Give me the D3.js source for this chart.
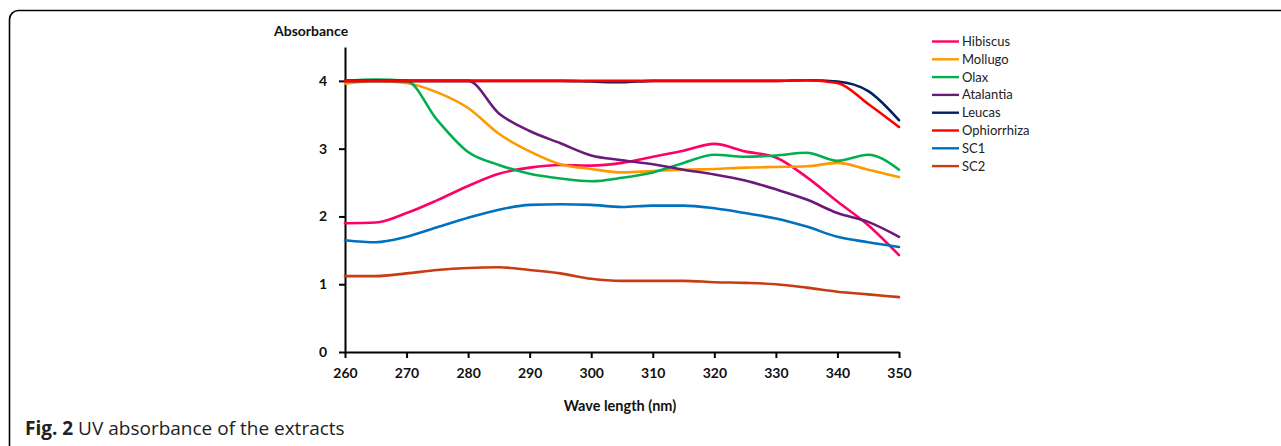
<!DOCTYPE html>
<html><head><meta charset="utf-8">
<script src="https://cdn.jsdelivr.net/npm/d3@7"></script>
<style>
html,body{margin:0;padding:0;background:#fff;}
svg{display:block;}
</style></head>
<body>
<svg id="chart" width="1281" height="446"></svg>
<script>
const wavelengths = [260,265,270,275,280,285,290,295,300,305,310,315,320,325,330,335,340,345,350];
const seriesNames = ["Hibiscus","Mollugo","Olax","Atalantia","Leucas","Ophiorrhiza","SC1","SC2"];
const seriesColors = ["#FF0066","#FF9900","#00B050","#6A1B7A","#002060","#FF0000","#0070C0","#C83C14"];
const hibiscus    = [1.90,1.91,2.05,2.24,2.45,2.63,2.72,2.76,2.75,2.79,2.88,2.97,3.07,2.96,2.87,2.58,2.22,1.87,1.43];
const mollugo     = [3.96,4.00,3.97,3.83,3.60,3.22,2.96,2.77,2.70,2.65,2.67,2.69,2.70,2.72,2.73,2.74,2.79,2.69,2.58];
const olax        = [4.00,4.02,4.00,3.42,2.95,2.76,2.63,2.56,2.52,2.57,2.65,2.79,2.91,2.88,2.90,2.94,2.82,2.91,2.69];
const atalantia   = [4.00,4.00,4.00,4.00,4.00,3.52,3.26,3.08,2.90,2.83,2.77,2.69,2.62,2.53,2.40,2.25,2.05,1.92,1.70];
const leucas      = [4.00,4.00,4.00,4.00,4.00,4.00,4.00,4.00,3.99,3.98,4.00,4.00,4.00,4.00,4.00,4.01,3.99,3.85,3.42];
const ophiorrhiza = [4.00,4.00,4.00,4.00,4.00,4.00,4.00,4.00,4.00,4.00,4.00,4.00,4.00,4.00,4.00,4.01,3.97,3.66,3.32];
const sc1         = [1.65,1.62,1.70,1.84,1.98,2.10,2.17,2.18,2.17,2.14,2.16,2.16,2.12,2.05,1.97,1.85,1.70,1.62,1.55];
const sc2         = [1.12,1.12,1.16,1.21,1.24,1.25,1.21,1.16,1.08,1.05,1.05,1.05,1.03,1.02,1.00,0.95,0.89,0.85,0.81];
const xTicks = [260,270,280,290,300,310,320,330,340,350];
const yTicks = [0,1,2,3,4];
const yLabel = "Absorbance";
const xLabel = "Wave length (nm)";
const captionBold = "Fig. 2";
const captionText = " UV absorbance of the extracts";

const seriesValues = [hibiscus,mollugo,olax,atalantia,leucas,ophiorrhiza,sc1,sc2];

const svg = d3.select("#chart");
const FONT = "Lato, 'Open Sans', sans-serif";

// frame
svg.append("rect").attr("x",9.5).attr("y",10.5).attr("width",1400).attr("height",600)
  .attr("rx",9).attr("fill","none").attr("stroke","#000").attr("stroke-width",1.6);

const x = d3.scaleLinear().domain([260,350]).range([345,899]);
const y = d3.scaleLinear().domain([0,4.5]).range([352,47]);

// axes
const xAxis = svg.append("g").attr("transform","translate(0,352)")
  .call(d3.axisBottom(x).tickValues(xTicks).tickSize(6).tickSizeOuter(0).tickPadding(10).tickFormat(d3.format("d")));
const yAxis = svg.append("g").attr("transform","translate(345,0)")
  .call(d3.axisLeft(y).tickValues(yTicks).tickSize(6).tickSizeOuter(0).tickPadding(12).tickFormat(d3.format("d")));
[xAxis,yAxis].forEach(g=>{
  g.select(".domain").attr("stroke","#000").attr("stroke-width",2);
  g.selectAll(".tick line").attr("stroke","#000").attr("stroke-width",2);
  g.selectAll(".tick text").attr("fill","#111").style("font-family",FONT)
    .style("font-size","14px").style("font-weight","bold");
});

const line = d3.line().x((d,i)=>x(wavelengths[i])).y(d=>y(d)).curve(d3.curveMonotoneX);
svg.append("g").selectAll("path").data(seriesValues).join("path")
  .attr("d",line).attr("fill","none")
  .attr("stroke",(d,i)=>seriesColors[i]).attr("stroke-width",2.6)
  .attr("stroke-linejoin","round").attr("stroke-linecap","round");

// labels
svg.append("text").attr("x",274).attr("y",36).text(yLabel).attr("fill","#111")
  .style("font-family",FONT).style("font-size","14px").style("font-weight","bold");
svg.append("text").attr("x",620).attr("y",411).attr("text-anchor","middle").text(xLabel).attr("fill","#111")
  .style("font-family",FONT).style("font-size","14.5px").style("font-weight","bold");

// legend
const lg = svg.append("g");
seriesNames.forEach((n,i)=>{
  const yy = 41.5 + i*17.8;
  lg.append("line").attr("x1",932).attr("x2",959).attr("y1",yy).attr("y2",yy)
    .attr("stroke",seriesColors[i]).attr("stroke-width",2.4);
  lg.append("text").attr("x",962).attr("y",yy+4.5).text(n)
    .style("font-family",FONT).style("font-size","13px").attr("fill","#222");
});

// caption
const cap = svg.append("text").attr("x",25).attr("y",435)
  .style("font-family","'Open Sans', sans-serif").style("font-size","19px").attr("fill","#222");
cap.append("tspan").text(captionBold).style("font-weight","bold");
cap.append("tspan").text(captionText);
</script>
</body></html>
